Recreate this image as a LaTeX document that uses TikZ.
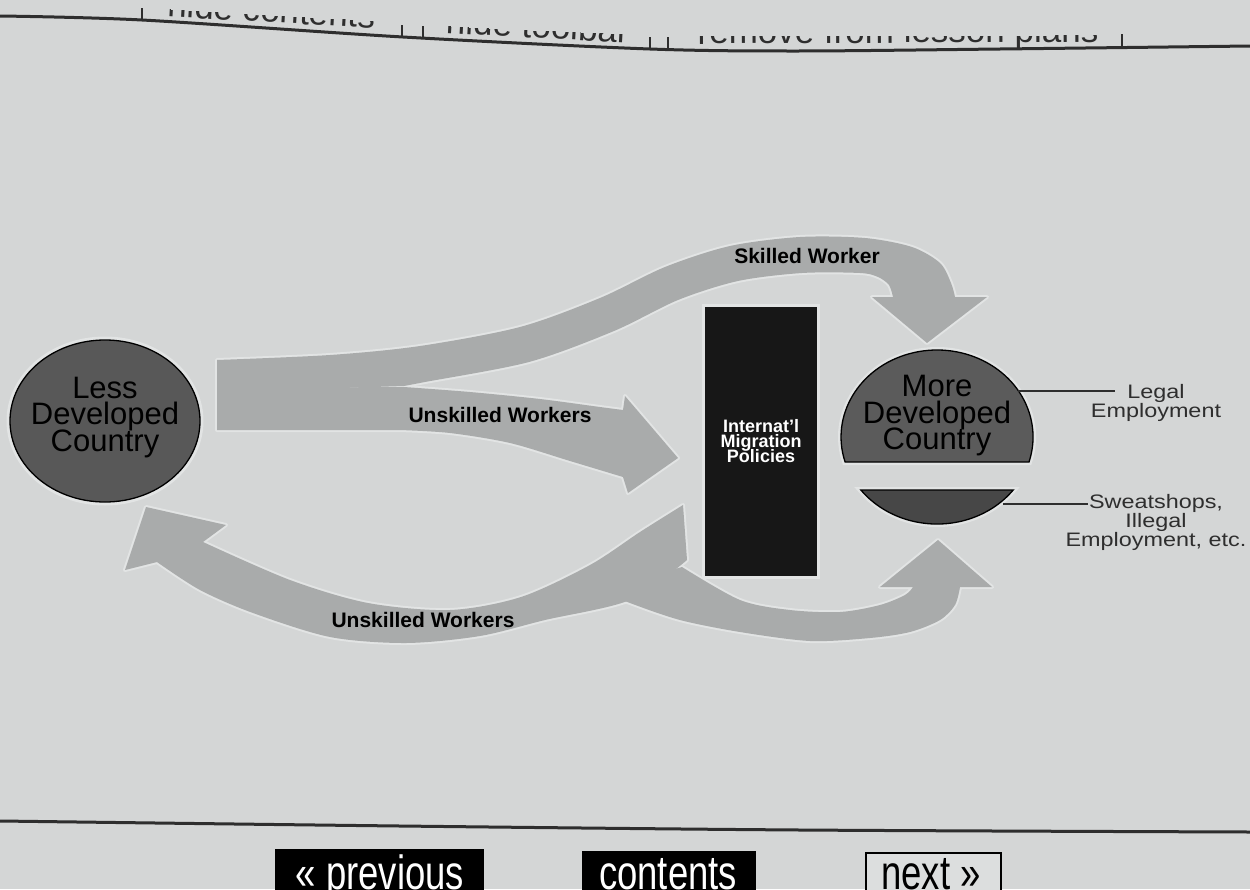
\documentclass[tikz,border=0pt]{standalone}
\usepackage{fontspec}
\usetikzlibrary{shapes.geometric}
\setmainfont{Liberation Sans}
\newfontfamily\widesans[FakeStretch=1.2]{Liberation Sans}
\newfontfamily\narrowsans[FakeStretch=0.76]{Liberation Sans}
\definecolor{bgc}{HTML}{D4D6D6}
\definecolor{arrowc}{HTML}{A9ABAB}
\definecolor{haloc}{HTML}{E2E4E4}
\definecolor{ldcc}{HTML}{585858}
\definecolor{mdcc}{HTML}{5B5B5B}
\definecolor{mdcbc}{HTML}{474747}
\definecolor{rectc}{HTML}{171717}
\definecolor{inkc}{HTML}{2E2E2E}
\definecolor{nextc}{HTML}{DCDEDE}
\tikzset{
  skilledshape/.style={insert path={plot[smooth] coordinates {(217,360) (330,355) (420,346) (520,327) (600,298) (665,267) (730,246) (800,237) (865,238) (912,247) (940,263) (951,283) (955,297)} -- (987,297) -- (927,343) -- (872,297) -- plot[smooth] coordinates {(893,297) (889,285) (878,277) (860,273) (802,273) (738,281) (678,300) (614,331) (529,362) (425,382) (404,386)} -- (217,392) -- cycle}},
  unskilledshape/.style={insert path={(217,388) -- plot[smooth] coordinates {(404,387) (470,392) (540,399) (600,407) (623,410)} -- (625,396) -- (678,458) -- (628,493) -- plot[smooth] coordinates {(623,477) (570,461) (510,443) (450,433) (400,430)} -- (217,430) -- cycle}},
  returnshape/.style={insert path={plot[smooth] coordinates {(683,505) (640,532) (590,565) (521,597) (450,610) (368,603) (290,580) (203,542)} -- (226,525) -- (146,507) -- (125,570) -- plot[smooth] coordinates {(157,562) (200,590) (253,613) (330,637) (406,643) (480,636) (545,620) (630,600) (687,560)} -- cycle}},
  sweatshape/.style={insert path={plot[smooth] coordinates {(682,567) (740,600) (790,610) (840,612) (880,605) (905,595) (913,587)} -- (880,587) -- (938,540) -- (992,587) -- plot[smooth] coordinates {(960,587) (955,605) (940,620) (910,632) (870,638) (810,641) (740,632) (680,620) (630,603) (600,590)} -- cycle}},
  halo/.style={draw=haloc, line width=4, line join=round},
  bandfill/.style={fill=arrowc},
  bigtext/.style={inner sep=0, align=center, font=\fontsize{31}{26.5}\selectfont},
  flowlbl/.style={inner sep=0, font=\bfseries\fontsize{21}{21}\selectfont},
  sidelbl/.style={inner sep=0, align=center, text=inkc, font=\widesans\fontsize{19.5}{19}\selectfont},
  ruleline/.style={draw=inkc, line width=3},
  leader/.style={draw=inkc, line width=2.2},
  topword/.style={inner sep=0, anchor=base, text=inkc, font=\fontsize{35}{35}\selectfont},
  bar/.style={draw=inkc, line width=2},
  btntext/.style={inner sep=0, anchor=base, font=\narrowsans\fontsize{48}{48}\selectfont},
}
\begin{document}
\lineskiplimit=-100pt
\lineskip=0pt
\begin{tikzpicture}[x=1pt,y=-1pt]
\useasboundingbox (0,0) rectangle (1250,889);
\clip (0,0) rectangle (1250,889);
\fill[bgc] (0,0) rectangle (1250,889);

% top navigation (cut off by the photo)
\begin{scope}
\clip plot[smooth] coordinates {(0,0) (150,8) (271,15.5) (380,21) (446,26) (537,30.5) (630,34) (690,35.5) (900,35.5) (1105,35) (1250,33)} -- (1250,120) -- (0,120) -- cycle;
\node[topword, rotate=-3.2] (hidec) at (271,22.5) {hide contents};
\node[topword, rotate=-3] (hidet) at (537,38) {hide toolbar};
\node[topword, rotate=0.3] (remove) at (898,43) {remove from lesson plans};
\end{scope}
\draw[ruleline] plot[smooth] coordinates {(0,16) (142,20) (403,37) (650,49) (797,51) (1000,49) (1250,46)};
\draw[bar] (142,8) -- (142,21);
\draw[bar] (402,25) -- (402,37);
\draw[bar] (423,26) -- (423,38);
\draw[bar] (650,37) -- (650,49);
\draw[bar] (668,37) -- (668,50);
\draw[bar] (1122,34) -- (1122,47);

% flow bands: halos first, then fills
\draw[halo, skilledshape];
\draw[halo, unskilledshape];
\draw[halo, returnshape];
\draw[halo, sweatshape];
\fill[bandfill, skilledshape];
\fill[bandfill, unskilledshape];
\fill[bandfill, returnshape];
\fill[bandfill, sweatshape];

% less developed country
\node[ellipse, draw=black, line width=1.3, fill=ldcc, minimum width=190, minimum height=162, inner sep=0,
      preaction={draw=haloc, line width=7}] (ldc) at (105,421) {};
\node[bigtext] (ldct) at (105,417.5) {Less\\Developed\\Country};

% policies
\node[fill=rectc, minimum width=112, minimum height=269, inner sep=0,
      preaction={draw=haloc, line width=6}, text=white, align=center,
      font=\bfseries\fontsize{18}{15}\selectfont] (pol) at (761,441.5) {Internat'l\\Migration\\Policies};

% more developed country (split disc)
\draw[draw=haloc, line width=6] (845.1,462) arc[start angle=163.3, end angle=376.7, x radius=96, y radius=87] -- cycle;
\draw[draw=haloc, line width=6] (1013.2,490) arc[start angle=37.5, end angle=142.5, x radius=96, y radius=87] -- cycle;
\draw[draw=black, line width=1.3, fill=mdcc] (845.1,462) arc[start angle=163.3, end angle=376.7, x radius=96, y radius=87] -- cycle;
\draw[draw=black, line width=1.3, fill=mdcbc] (1013.2,490) arc[start angle=37.5, end angle=142.5, x radius=96, y radius=87] -- cycle;
\node[bigtext] (mdct) at (937,416) {More\\Developed\\Country};

% side labels
\coordinate (legalA) at (1018,391);
\coordinate (legalB) at (1115,391);
\coordinate (sweatA) at (1003,504);
\coordinate (sweatB) at (1088,504);
\draw[leader] (legalA) -- (legalB);
\draw[leader] (sweatA) -- (sweatB);
\node[sidelbl] (legal) at (1156,402.5) {Legal\\Employment};
\node[sidelbl] (sweat) at (1156,522) {Sweatshops,\\Illegal\\Employment, etc.};

% flow labels
\node[flowlbl, anchor=base] (skw) at (807,263) {Skilled Worker};
\node[flowlbl, anchor=base] (unsk1) at (500,422) {Unskilled Workers};
\node[flowlbl, anchor=base] (unsk2) at (423,627) {Unskilled Workers};

% bottom navigation
\draw[ruleline] plot[smooth] coordinates {(0,821) (400,826) (800,830) (1250,832)};
\node[fill=black, minimum width=209, minimum height=60, inner sep=0, anchor=north west] (prevb) at (275,849) {};
\node[fill=black, minimum width=174, minimum height=60, inner sep=0, anchor=north west] (contb) at (582,851) {};
\draw[draw=black, line width=2.2, fill=nextc] (866,900) -- (866,853) -- (1001,853) -- (1001,900);
\node[btntext, text=white] (prevt) at (380,889) {« previous};
\node[btntext, text=white] (contt) at (668,889) {contents};
\node[btntext, text=black] (nextt) at (931,889) {next »};
\end{tikzpicture}
\end{document}
